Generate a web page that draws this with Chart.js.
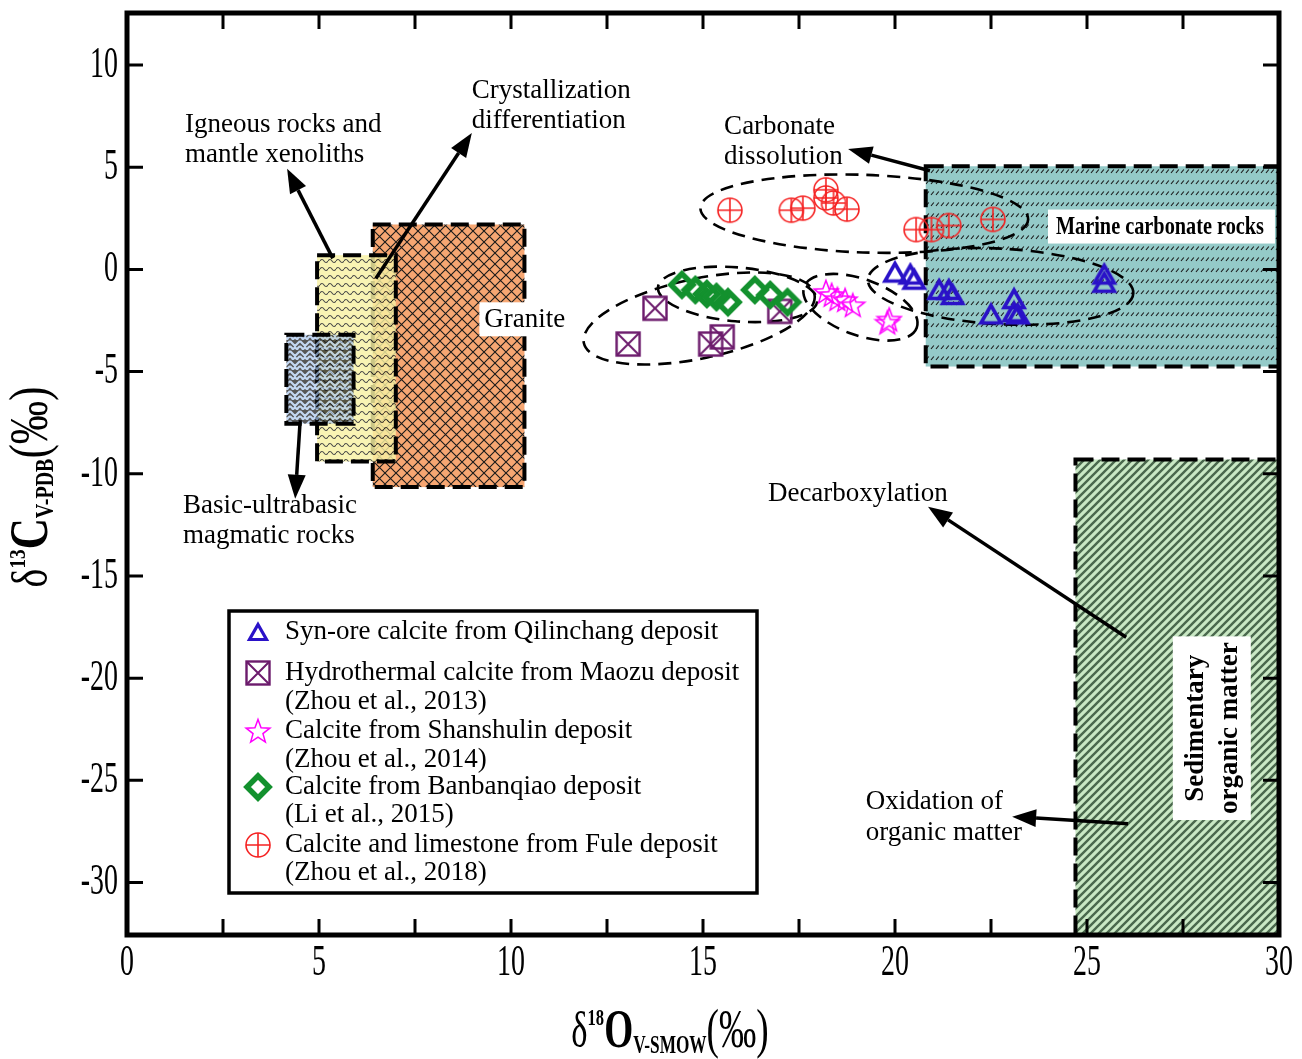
<!DOCTYPE html>
<html><head><meta charset="utf-8">
<script src="https://cdn.jsdelivr.net/npm/chart.js@4.4.1/dist/chart.umd.min.js"></script>
<style>html,body{margin:0;padding:0;background:#fff;}#wrap{width:1302px;height:1059px;}</style>
</head><body><div id="wrap"><canvas id="c" width="1302" height="1059"></canvas></div>
<script>
// ---------------- DATA ----------------
const seriesNames = [
  'Syn-ore calcite from Qilinchang deposit',
  'Hydrothermal calcite from Maozu deposit',
  'Calcite from Shanshulin deposit',
  'Calcite from Banbanqiao deposit',
  'Calcite and limestone from Fule deposit'
];
const seriesRefs = ['', '(Zhou et al., 2013)', '(Zhou et al., 2014)', '(Li et al., 2015)', '(Zhou et al., 2018)'];

const qilinchangX = [20.0, 20.4, 20.5, 21.15, 21.4, 21.5, 22.5, 23.1, 23.1, 23.2, 25.45, 25.45];
const qilinchangY = [-0.15, -0.25, -0.5, -1.0, -1.0, -1.25, -2.2, -1.45, -2.1, -2.2, -0.25, -0.65];
const maozuX = [13.75, 13.05, 15.2, 15.5, 17.0];
const maozuY = [-1.9, -3.65, -3.65, -3.3, -2.05];
const shanshulinX = [18.2, 18.35, 18.5, 18.7, 18.9, 19.85, 19.8];
const shanshulinY = [-1.1, -1.25, -1.45, -1.5, -1.75, -2.45, -2.6];
const banbanqiaoX = [14.45, 14.8, 15.1, 15.35, 15.65, 16.35, 16.75, 17.2];
const banbanqiaoY = [-0.75, -1.0, -1.2, -1.35, -1.6, -1.0, -1.25, -1.6];
const fuleX = [15.7, 17.3, 17.6, 18.2, 18.2, 18.4, 18.75, 20.55, 20.95, 21.4, 22.55];
const fuleY = [2.9, 2.9, 3.0, 3.9, 3.5, 3.25, 2.95, 1.95, 1.95, 2.15, 2.45];

// source fields (isotope ranges)
const regionNames = ['Granite', 'Igneous rocks and mantle xenoliths', 'Basic-ultrabasic magmatic rocks', 'Marine carbonate rocks', 'Sedimentary organic matter'];
const regionXmin = [6.4, 4.95, 4.15, 20.8, 24.7];
const regionXmax = [10.35, 7.0, 5.9, 30, 30];
const regionYmin = [-10.65, -9.4, -7.55, -4.75, -32.57];
const regionYmax = [2.2, 0.7, -3.2, 5.05, -9.3];

// dashed data-group ellipses: centre, semi-axes (data units), tilt (deg)
const ellCX = [19.2, 14.9, 15.9, 19.1, 22.75];
const ellCY = [2.73, -2.4, -1.22, -1.85, -0.83];
const ellRX = [4.27, 3.07, 2.08, 1.56, 3.46];
const ellRY = [1.9, 1.95, 1.32, 1.37, 1.85];
const ellRot = [2, -12, 5, 20, 3];

// process arrows (data coordinates): start -> head
const arrowX0 = [5.36, 6.48, 20.91, 4.51, 26.02, 26.07];
const arrowY0 = [0.54, -0.44, 4.83, -7.37, -18.0, -27.12];
const arrowX1 = [4.17, 8.98, 18.78, 4.38, 20.86, 23.05];
const arrowY1 = [4.93, 6.68, 5.9, -11.22, -11.61, -26.78];

// annotation texts (left-aligned at x, centred at y)
const noteText = ['Igneous rocks and', 'mantle xenoliths', 'Crystallization', 'differentiation', 'Carbonate', 'dissolution',
                  'Basic-ultrabasic', 'magmatic rocks', 'Decarboxylation', 'Oxidation of', 'organic matter'];
const noteX = [1.51, 1.51, 8.98, 8.98, 15.55, 15.55, 1.46, 1.46, 16.69, 19.24, 19.24];
const noteY = [7.07, 5.61, 8.73, 7.27, 6.98, 5.51, -11.56, -13.02, -10.98, -26.05, -27.56];

const xMin = 0, xMax = 30, xStep = 2.5, xLabelStep = 5;
const yMin = -32.57, yMax = 12.55, yStep = 5;

// ---------------- MARKERS ----------------
function mk(w, h, fn) { const c = document.createElement('canvas'); c.width = w; c.height = h; fn(c.getContext('2d')); return c; }
const COL = { tri: '#2a12c8', sq: '#6c1b6c', star: '#ff00ff', dia: '#13912e', cir: '#f52222' };
const imgTri = mk(28, 26, g => { g.strokeStyle = COL.tri; g.lineWidth = 3.6; g.lineJoin = 'miter';
  g.beginPath(); g.moveTo(14, 4); g.lineTo(24, 21.5); g.lineTo(4, 21.5); g.closePath(); g.stroke(); });
const imgTriLeg = mk(24, 22, g => { g.strokeStyle = COL.tri; g.lineWidth = 3.2; g.lineJoin = 'miter';
  g.beginPath(); g.moveTo(12, 3.5); g.lineTo(20.5, 18.5); g.lineTo(3.5, 18.5); g.closePath(); g.stroke(); });
const imgSq = mk(28, 28, g => { g.strokeStyle = COL.sq; g.lineWidth = 2.4; g.strokeRect(2.5, 2.5, 23, 23);
  g.lineWidth = 2; g.beginPath(); g.moveTo(3, 3); g.lineTo(25, 25); g.moveTo(25, 3); g.lineTo(3, 25); g.stroke(); });
const imgStar = mk(28, 28, g => { g.strokeStyle = COL.star; g.lineWidth = 1.5; g.beginPath();
  for (let i = 0; i < 10; i++) { const r = i % 2 ? 5.2 : 12.5; const a = -Math.PI / 2 + i * Math.PI / 5;
    const px = 14 + r * Math.cos(a), py = 15 + r * Math.sin(a); i ? g.lineTo(px, py) : g.moveTo(px, py); }
  g.closePath(); g.stroke(); });
const imgDia = mk(32, 32, g => { g.strokeStyle = COL.dia; g.lineWidth = 5.5; g.lineJoin = 'miter'; g.beginPath();
  g.moveTo(16, 5); g.lineTo(27, 16); g.lineTo(16, 27); g.lineTo(5, 16); g.closePath(); g.stroke(); });
const imgCir = mk(28, 28, g => { g.strokeStyle = COL.cir; g.lineWidth = 1.6; g.beginPath(); g.arc(14, 14, 12, 0, Math.PI * 2); g.stroke();
  g.beginPath(); g.moveTo(2, 14); g.lineTo(26, 14); g.moveTo(14, 2); g.lineTo(14, 26); g.stroke(); });
const markerImgs = [imgTri, imgSq, imgStar, imgDia, imgCir];
const legendImgs = [imgTriLeg, imgSq, imgStar, imgDia, imgCir];

// ---------------- PATTERNS ----------------
function pat(w, h, fn) { const t = mk(w, h, fn); return document.getElementById('c').getContext('2d').createPattern(t, 'repeat'); }
const patGranite = pat(11, 11, g => { g.fillStyle = '#f6a672'; g.fillRect(0, 0, 11, 11); g.strokeStyle = '#1a1a1a'; g.lineWidth = 1.1;
  g.beginPath(); g.moveTo(-1, -1); g.lineTo(12, 12); g.moveTo(12, -1); g.lineTo(-1, 12); g.stroke(); });
const patIgneous = pat(8, 8, g => { g.fillStyle = '#f8f2a4'; g.fillRect(0, 0, 8, 8); g.strokeStyle = '#222'; g.lineWidth = 1.1;
  g.beginPath(); g.moveTo(0, 5); g.quadraticCurveTo(2, 2, 4, 5); g.quadraticCurveTo(6, 8, 8, 5); g.stroke(); });
const patBasic = pat(10, 10, g => { g.fillStyle = '#111'; g.fillRect(0, 0, 10, 10); g.strokeStyle = '#a9c6ee'; g.lineWidth = 2.2;
  g.beginPath(); g.moveTo(0, 1); g.lineTo(5, 6); g.lineTo(10, 1); g.moveTo(0, 6); g.lineTo(3, 9); g.moveTo(10, 6); g.lineTo(7, 9);
  g.moveTo(2, 10); g.lineTo(5, 7.5); g.lineTo(8, 10); g.stroke(); });
const patMarine = pat(5, 11, g => { g.fillStyle = '#94cac8'; g.fillRect(0, 0, 5, 11); g.strokeStyle = '#1c1c1c'; g.lineWidth = 1.2;
  g.beginPath(); g.moveTo(1, 8); g.lineTo(3.8, 4.5); g.stroke(); });
const patSed = pat(8, 8, g => { g.fillStyle = '#c9e8c4'; g.fillRect(0, 0, 8, 8); g.strokeStyle = '#4a684d'; g.lineWidth = 2.4;
  g.beginPath(); g.moveTo(-2, 10); g.lineTo(10, -2); g.moveTo(-2, 2); g.lineTo(2, -2); g.moveTo(6, 10); g.lineTo(10, 6); g.stroke(); });
const regionFill = [patGranite, patIgneous, patBasic, patMarine, patSed];
const regionAlpha = [1, 0.82, 0.7, 1, 1];

const SERIF = '"Liberation Serif","Times New Roman",serif';

function txt(ctx, s, x, y, font, o = {}) {
  ctx.save(); ctx.font = font; ctx.fillStyle = o.color || '#000';
  ctx.textBaseline = o.baseline || 'middle'; ctx.textAlign = o.align || 'left';
  ctx.translate(x, y); if (o.rot) ctx.rotate(o.rot); ctx.scale(o.sx || 1, 1);
  ctx.fillText(s, 0, 0); ctx.restore();
}
function whiteLabel(ctx, lines, cx, cy, font, padX, padY, lh, rot) {
  ctx.save(); ctx.font = font; ctx.translate(cx, cy); if (rot) ctx.rotate(rot);
  const w = Math.max(...lines.map(l => ctx.measureText(l).width)) + padX * 2;
  const h = lines.length * lh + padY * 2;
  ctx.fillStyle = '#fff'; ctx.fillRect(-w / 2, -h / 2, w, h);
  ctx.fillStyle = '#000'; ctx.textAlign = 'center'; ctx.textBaseline = 'middle';
  lines.forEach((l, i) => ctx.fillText(l, 0, -h / 2 + padY + lh * (i + 0.5) + 1));
  ctx.restore();
}
function composite(ctx, parts, x, y, rot, sx) {
  ctx.save(); ctx.translate(x, y); if (rot) ctx.rotate(rot); ctx.textBaseline = 'alphabetic'; ctx.fillStyle = '#000';
  let total = 0; parts.forEach(p => { ctx.font = p.f; p.w = ctx.measureText(p.t).width * sx; total += p.w; });
  let cx = -total / 2;
  parts.forEach(p => { ctx.save(); ctx.font = p.f; ctx.translate(cx, p.dy); ctx.scale(sx, 1); ctx.fillText(p.t, 0, 0); ctx.restore(); cx += p.w; });
  ctx.restore();
}
function arrow(ctx, x0, y0, x1, y1) {
  const ang = Math.atan2(y1 - y0, x1 - x0), L = 24, W = 9;
  const bx = x1 - L * Math.cos(ang), by = y1 - L * Math.sin(ang);
  ctx.save(); ctx.strokeStyle = '#000'; ctx.fillStyle = '#000'; ctx.lineWidth = 3.5; ctx.setLineDash([]);
  ctx.beginPath(); ctx.moveTo(x0, y0); ctx.lineTo(bx, by); ctx.stroke();
  ctx.beginPath(); ctx.moveTo(x1, y1);
  ctx.lineTo(bx + W * Math.sin(ang), by - W * Math.cos(ang));
  ctx.lineTo(bx - W * Math.sin(ang), by + W * Math.cos(ang)); ctx.closePath(); ctx.fill();
  ctx.restore();
}

const annot = {
  id: 'annot',
  beforeDatasetsDraw(chart) {
    const { ctx, scales: { x, y } } = chart;
    ctx.save();
    for (let i = 0; i < regionNames.length; i++) {
      const l = x.getPixelForValue(regionXmin[i]), r = x.getPixelForValue(regionXmax[i]);
      const t = y.getPixelForValue(regionYmax[i]), b = y.getPixelForValue(regionYmin[i]);
      ctx.globalAlpha = regionAlpha[i]; ctx.fillStyle = regionFill[i]; ctx.fillRect(l, t, r - l, b - t);
      ctx.globalAlpha = 1; ctx.strokeStyle = '#000'; ctx.lineWidth = 4; ctx.setLineDash([18, 8]);
      ctx.strokeRect(l, t, r - l, b - t);
    }
    ctx.setLineDash([]);
    whiteLabel(ctx, ['Granite'], x.getPixelForValue(10.36), y.getPixelForValue(-2.44), '27px ' + SERIF, 5, 2, 30);
    const mcx = x.getPixelForValue(26.9), mcy = y.getPixelForValue(2.1);
    ctx.fillStyle = '#fff'; ctx.fillRect(mcx - 112, mcy - 17, 227, 34);
    txt(ctx, 'Marine carbonate rocks', mcx, mcy + 1, 'bold 26px ' + SERIF, { align: 'center', sx: 0.78 });
    whiteLabel(ctx, ['Sedimentary', 'organic matter'], x.getPixelForValue(28.25), y.getPixelForValue(-22.45), 'bold 27px ' + SERIF, 6, 5, 34, -Math.PI / 2);
    ctx.strokeStyle = '#000'; ctx.lineWidth = 2.6; ctx.setLineDash([13, 8]);
    const kx = x.getPixelForValue(1) - x.getPixelForValue(0), ky = y.getPixelForValue(0) - y.getPixelForValue(1);
    for (let i = 0; i < ellCX.length; i++) {
      ctx.beginPath();
      ctx.ellipse(x.getPixelForValue(ellCX[i]), y.getPixelForValue(ellCY[i]), ellRX[i] * kx, ellRY[i] * ky, ellRot[i] * Math.PI / 180, 0, Math.PI * 2);
      ctx.stroke();
    }
    ctx.restore();
  },
  afterDatasetsDraw(chart) {
    const { ctx, chartArea: a, scales: { x, y } } = chart;
    for (let i = 0; i < arrowX0.length; i++)
      arrow(ctx, x.getPixelForValue(arrowX0[i]), y.getPixelForValue(arrowY0[i]), x.getPixelForValue(arrowX1[i]), y.getPixelForValue(arrowY1[i]));
    for (let i = 0; i < noteText.length; i++)
      txt(ctx, noteText[i], x.getPixelForValue(noteX[i]), y.getPixelForValue(noteY[i]), '27px ' + SERIF);
    ctx.save(); ctx.strokeStyle = '#000'; ctx.lineWidth = 5; ctx.setLineDash([]);
    ctx.strokeRect(a.left, a.top, a.right - a.left, a.bottom - a.top);
    ctx.lineWidth = 3;
    x.ticks.forEach(t => {
      const px = x.getPixelForValue(t.value);
      if (t.value > xMin && t.value < xMax) {
        ctx.beginPath(); ctx.moveTo(px, a.bottom); ctx.lineTo(px, a.bottom - 16);
        ctx.moveTo(px, a.top); ctx.lineTo(px, a.top + 16); ctx.stroke();
      }
      if (Math.abs(t.value / xLabelStep - Math.round(t.value / xLabelStep)) < 1e-6)
        txt(ctx, String(t.value), px, a.bottom + 28, '45px ' + SERIF, { align: 'center', sx: 0.62 });
    });
    y.ticks.forEach(t => {
      const py = y.getPixelForValue(t.value);
      ctx.beginPath(); ctx.moveTo(a.left, py); ctx.lineTo(a.left + 16, py);
      ctx.moveTo(a.right, py); ctx.lineTo(a.right - 16, py); ctx.stroke();
      txt(ctx, String(t.value), a.left - 9, py, '45px ' + SERIF, { align: 'right', sx: 0.62 });
    });
    ctx.restore();
    composite(ctx, [
      { t: 'δ', f: '50px ' + SERIF, dy: 0 }, { t: '18', f: 'bold 24px ' + SERIF, dy: -22 },
      { t: 'O', f: 'bold 54px ' + SERIF, dy: 0 }, { t: 'V-SMOW', f: 'bold 25px ' + SERIF, dy: 6 },
      { t: '(‰)', f: '54px ' + SERIF, dy: 0 }], 670, 1047, 0, 0.69);
    composite(ctx, [
      { t: 'δ', f: '50px ' + SERIF, dy: 0 }, { t: '13', f: 'bold 24px ' + SERIF, dy: -22 },
      { t: 'C', f: 'bold 54px ' + SERIF, dy: 0 }, { t: 'V-PDB', f: 'bold 25px ' + SERIF, dy: 6 },
      { t: '(‰)', f: '54px ' + SERIF, dy: 0 }], 47, 487, -Math.PI / 2, 0.8);
    ctx.save();
    ctx.fillStyle = '#fff'; ctx.fillRect(229, 611, 528, 282);
    ctx.strokeStyle = '#000'; ctx.lineWidth = 3.5; ctx.strokeRect(229, 611, 528, 282);
    const rows = [[632], [673, 702], [731, 760], [787, 815], [845, 873]];
    for (let i = 0; i < seriesNames.length; i++) {
      const im = legendImgs[i];
      ctx.drawImage(im, 258 - im.width / 2, rows[i][0] - im.height / 2);
      txt(ctx, seriesNames[i], 285, rows[i][0], '27px ' + SERIF);
      if (seriesRefs[i]) txt(ctx, seriesRefs[i], 285, rows[i][1], '27px ' + SERIF);
    }
    ctx.restore();
  }
};

function pts(xs, ys) { return xs.map((v, i) => ({ x: v, y: ys[i] })); }
const seriesData = [pts(qilinchangX, qilinchangY), pts(maozuX, maozuY), pts(shanshulinX, shanshulinY), pts(banbanqiaoX, banbanqiaoY), pts(fuleX, fuleY)];

new Chart(document.getElementById('c'), {
  type: 'scatter',
  data: {
    datasets: seriesData.map((d, i) => ({
      label: seriesNames[i], data: d, pointStyle: markerImgs[i], pointRadius: 12, pointHoverRadius: 12
    })).reverse()
  },
  options: {
    responsive: false, animation: false, devicePixelRatio: 1,
    layout: { padding: { left: 127, right: 23, top: 10, bottom: 124 } },
    plugins: { legend: { display: false }, tooltip: { enabled: false } },
    events: [],
    scales: {
      x: { type: 'linear', display: false, min: xMin, max: xMax, ticks: { stepSize: xStep, includeBounds: false } },
      y: { type: 'linear', display: false, min: yMin, max: yMax, ticks: { stepSize: yStep, includeBounds: false } }
    }
  },
  plugins: [annot]
});
</script></body></html>
